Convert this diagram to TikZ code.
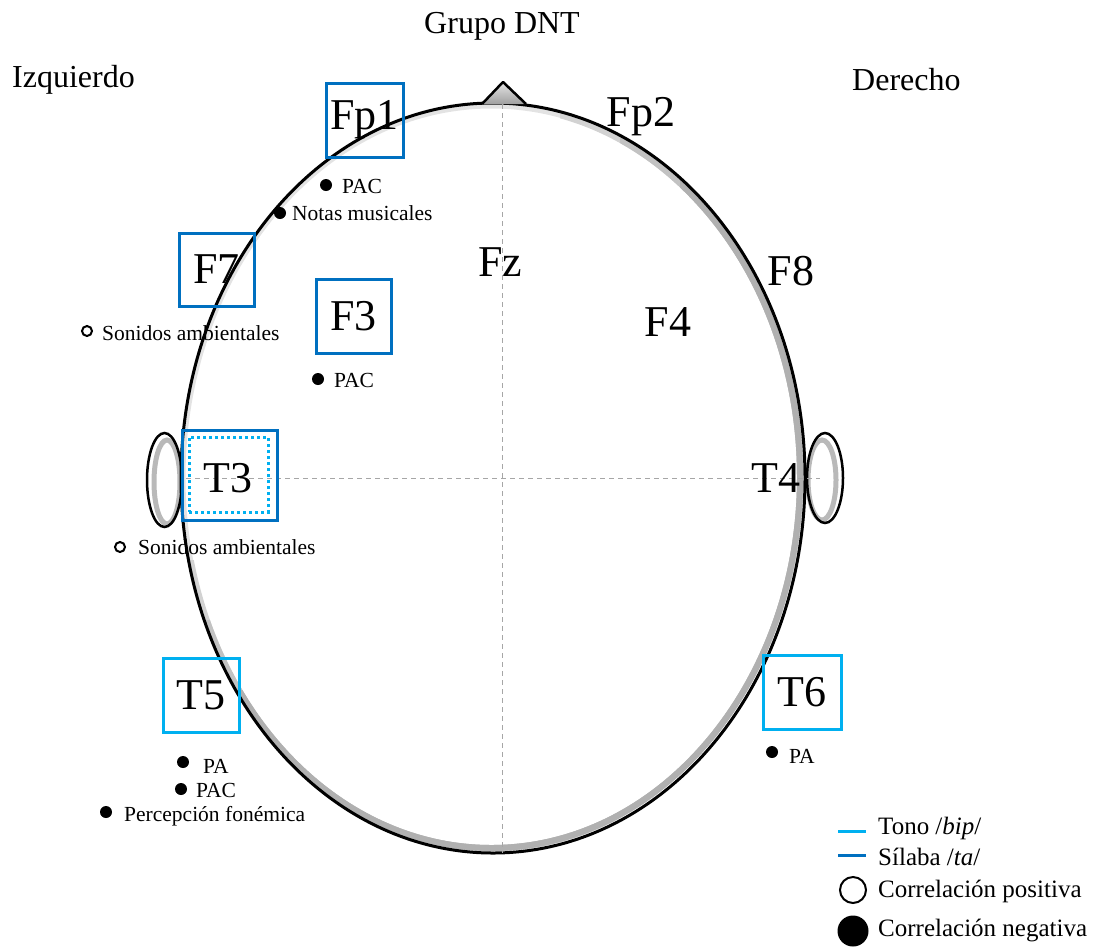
\documentclass[tikz,border=0pt]{standalone}
\usepackage{fontspec}
\setmainfont{Liberation Serif}
\definecolor{darkblue}{RGB}{0,112,192}
\definecolor{lightblue}{RGB}{0,176,240}
\tikzset{
  head/.style={line width=3pt, draw=black},
  guide/.style={draw=gray!70, line width=0.8pt, dash pattern=on 5pt off 4pt},
  boxd/.style={draw=darkblue, line width=3pt, inner sep=0pt, font=\fontsize{44}{48}\selectfont},
  boxl/.style={draw=lightblue, line width=3pt, inner sep=0pt, font=\fontsize{44}{48}\selectfont},
  elec/.style={inner sep=0pt, font=\fontsize{44}{48}\selectfont},
  side/.style={inner sep=0pt, font=\fontsize{32}{35}\selectfont},
  lbl/.style={anchor=west, inner sep=0pt, font=\fontsize{21.5}{24}\selectfont},
  negdot/.style={circle, fill=black, inner sep=0pt, minimum size=12pt},
  posdot/.style={circle, draw=black, line width=2pt, fill=white, inner sep=0pt, minimum size=10pt},
  leg/.style={anchor=west, inner sep=0pt, font=\fontsize{25}{28}\selectfont},
  shadowring/.style={line width=6pt},
}
\begin{document}
\begin{tikzpicture}[x=1pt,y=-1pt]
\useasboundingbox (0,0) rectangle (1099,946);

% ears (inner shading towards the head)
\draw[gray!55, line width=5pt] (167,482) ellipse [x radius=13pt, y radius=42pt];
\draw[line width=2.5pt] (164.5,480) ellipse [x radius=17.5pt, y radius=47pt];
\draw[gray!55, line width=5pt] (822,480) ellipse [x radius=14pt, y radius=40pt];
\draw[line width=2.5pt] (825,478) ellipse [x radius=18pt, y radius=45pt];

% head outline with an inner shadow that darkens towards the lower right
\draw[gray!22, line width=5pt] (491.5,477.5) ellipse [x radius=308.5pt, y radius=371.5pt];
\foreach \cx/\cy/\shade in {560/560/35, 620/620/48, 680/690/62}{
  \begin{scope}
    \clip (\cx,0) rectangle (1099,946) (0,\cy) rectangle (1099,946);
    \draw[gray!\shade, shadowring] (491.5,477) ellipse [x radius=308.5pt, y radius=371pt];
  \end{scope}
}
\draw[head] (493,478) ellipse [x radius=312pt, y radius=375pt];

% nose
\coordinate (noseL) at (482,104);
\coordinate (noseT) at (503,82);
\coordinate (noseR) at (526,104);
\shade[top color=gray!20, bottom color=gray!75] (noseL) -- (noseT) -- (noseR) -- cycle;
\draw[line width=2.5pt, line join=round] (noseL) -- (noseT) -- (noseR);

% midlines
\coordinate (top) at (502,104);
\coordinate (bottom) at (502,853);
\coordinate (left) at (186,478);
\coordinate (right) at (820,478);
\draw[guide] (top) -- (bottom);
\draw[guide] (left) -- (right);

% titles
\node[side] (title) at (502,26) {Grupo DNT};
\node[side, anchor=west] (izq) at (12,80) {Izquierdo};
\node[side, anchor=west] (der) at (852,80) {Derecho};

% electrodes
\node[boxd, minimum width=77pt, minimum height=74pt] (fp1) at (364.5,120) {Fp1};
\node[boxd, minimum width=75pt, minimum height=73pt] (f7) at (216.5,269.5) {F7};
\node[boxd, minimum width=75pt, minimum height=74pt] (f3) at (353.5,316) {F3};
\node[boxd, minimum width=95pt, minimum height=90pt] (t3box) at (229.5,475) {};
\node[draw=lightblue, line width=3pt, dash pattern=on 3pt off 3pt, minimum width=79pt, minimum height=75pt, inner sep=0pt] (t3in) at (228.5,474.5) {};
\node[elec] (t3) at (228,478) {T3};
\node[boxl, minimum width=76pt, minimum height=74pt] (t5) at (201,695) {T5};
\node[boxl, minimum width=78pt, minimum height=74pt] (t6) at (802,692) {T6};
\node[elec] (fp2) at (641,117) {Fp2};
\node[elec] (fz) at (500,262) {Fz};
\node[elec] (f8) at (791,271) {F8};
\node[elec] (f4) at (668,322) {F4};
\node[elec] (t4) at (776,478) {T4};

% correlations
\node[negdot] (d1) at (326,185) {};
\node[lbl] (l1) at (342,186) {PAC};
\node[negdot] (d2) at (280,213) {};
\node[lbl] (l2) at (292,213) {Notas musicales};
\node[posdot] (d3) at (87,331) {};
\node[lbl] (l3) at (102,333) {Sonidos ambientales};
\node[negdot] (d4) at (318,379) {};
\node[lbl] (l4) at (334,380) {PAC};
\node[posdot] (d5) at (120,547) {};
\node[lbl] (l5) at (138,547) {Sonidos ambientales};
\node[negdot] (d6) at (183,762) {};
\node[lbl] (l6) at (203,766) {PA};
\node[negdot] (d7) at (181,789) {};
\node[lbl] (l7) at (196,790) {PAC};
\node[negdot] (d8) at (106,812) {};
\node[lbl] (l8) at (124,816) {Percepción fonémica};
\node[negdot] (d9) at (772,752) {};
\node[lbl] (l9) at (789,756) {PA};

% legend
\coordinate (lg1a) at (838,831);
\coordinate (lg1b) at (866,831);
\coordinate (lg2a) at (838,855);
\coordinate (lg2b) at (866,855);
\draw[lightblue, line width=3pt] (lg1a) -- (lg1b);
\draw[darkblue, line width=3pt] (lg2a) -- (lg2b);
\node[leg] (t1) at (878,828) {Tono /\textit{bip}/};
\node[leg] (t2) at (878,857) {Sílaba /\textit{ta}/};
\node[circle, draw=black, line width=2pt, minimum size=26pt, inner sep=0pt] (c1) at (853,890) {};
\node[leg] (t3l) at (878,891) {Correlación positiva};
\node[circle, fill=black, minimum size=31pt, inner sep=0pt] (c2) at (853,931) {};
\node[leg] (t4l) at (878,930) {Correlación negativa};
\end{tikzpicture}
\end{document}
